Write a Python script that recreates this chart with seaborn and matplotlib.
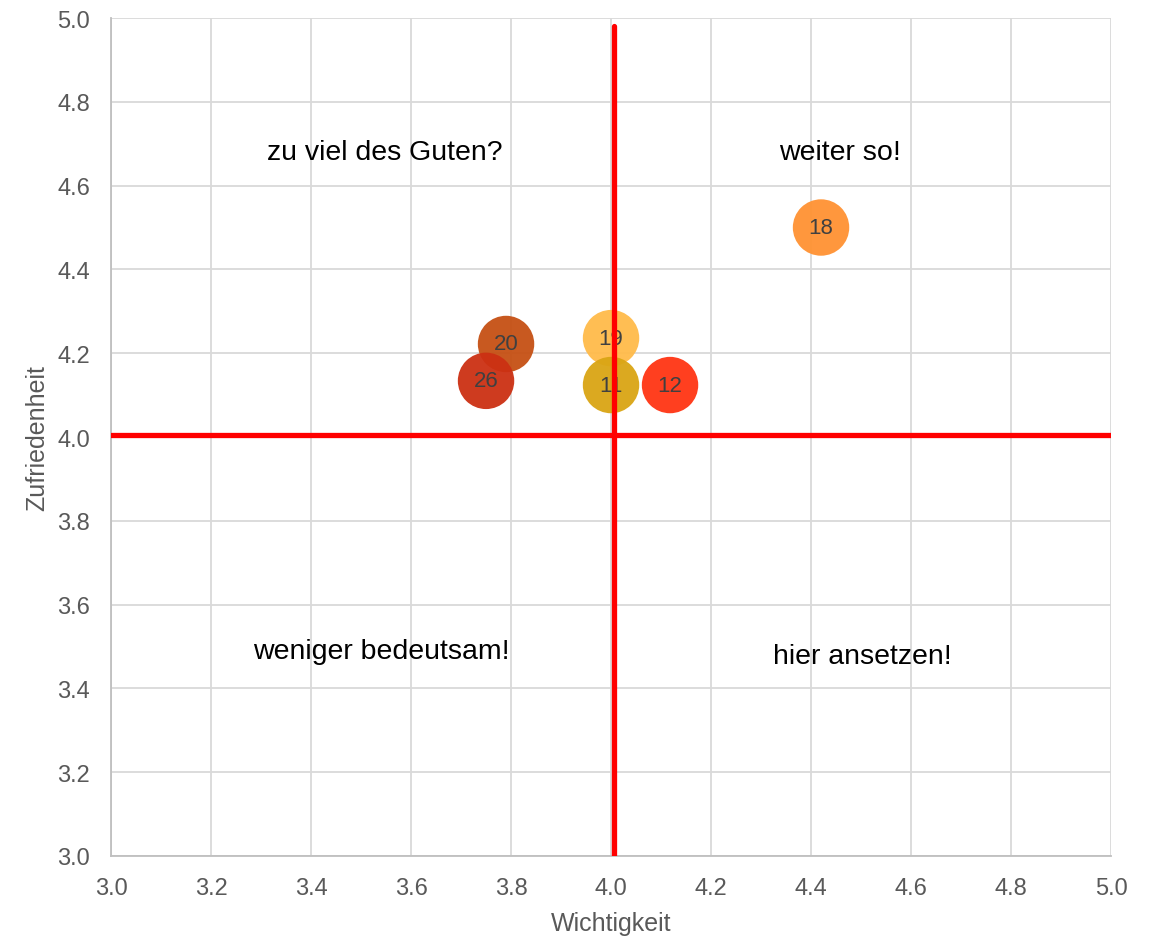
import matplotlib
matplotlib.use("Agg")
import matplotlib.pyplot as plt
import seaborn as sns
import pandas as pd

# Data
labels = ["18", "20", "26", "19", "11", "12"]
wichtigkeit = [4.42, 3.79, 3.75, 4.00, 4.00, 4.118]
zufriedenheit = [4.50, 4.222, 4.134, 4.236, 4.124, 4.124]
colors = ["#FF9232", "#C55014", "#CC3013", "#FFBB4A", "#D9A514", "#FF3413"]

quadrant_texts = ["zu viel des Guten?", "weiter so!", "weniger bedeutsam!", "hier ansetzen!"]
quadrant_x = [3.548, 4.458, 3.54, 4.502]
quadrant_y = [4.68, 4.68, 3.489, 3.477]

ticks = [3.0, 3.2, 3.4, 3.6, 3.8, 4.0, 4.2, 4.4, 4.6, 4.8, 5.0]
center_x = 4.005
center_y = 4.005

df = pd.DataFrame({"Wichtigkeit": wichtigkeit, "Zufriedenheit": zufriedenheit, "label": labels})

sns.set_theme(style="white")
plt.rcParams["font.family"] = ["Liberation Sans", "DejaVu Sans"]

fig = plt.figure(figsize=(11.53, 9.37), dpi=100)
ax = fig.add_axes([0.0963, 0.0854, 0.8673, 0.8943])

sns.scatterplot(data=df, x="Wichtigkeit", y="Zufriedenheit", hue="label",
                palette=dict(zip(labels, colors)), s=1650, alpha=0.95,
                linewidth=0, legend=False, ax=ax, zorder=3)

for lab, x, y in zip(labels, wichtigkeit, zufriedenheit):
    ax.text(x, y, lab, ha="center", va="center", fontsize=16, color="#404040", zorder=4)

ax.axhline(center_y, color="#FF0000", lw=3.8, zorder=5)
ax.axvline(center_x, ymin=0, ymax=0.99, color="#FF0000", lw=3.8, zorder=5)

for t, x, y in zip(quadrant_texts, quadrant_x, quadrant_y):
    ax.text(x, y, t, ha="center", va="center", fontsize=20.5, color="black", zorder=4)

ax.set_xlim(3.0, 5.0)
ax.set_ylim(3.0, 5.0)
ax.set_xticks(ticks)
ax.set_yticks(ticks)
ax.set_xticklabels([f"{t:.1f}" for t in ticks])
ax.set_yticklabels([f"{t:.1f}" for t in ticks])
ax.tick_params(axis="both", labelsize=17, colors="#595959", length=0, pad=15)
ax.grid(True, color="#D9D9D9", lw=1.3)
ax.set_axisbelow(True)
for s in ["top", "right"]:
    ax.spines[s].set_visible(False)
for s in ["left", "bottom"]:
    ax.spines[s].set_color("#BFBFBF")
    ax.spines[s].set_linewidth(1.3)

ax.set_xlabel("Wichtigkeit", fontsize=18, color="#595959", labelpad=9)
ax.set_ylabel("Zufriedenheit", fontsize=18, color="#595959", labelpad=6)

fig.savefig("out.png", dpi=100)
